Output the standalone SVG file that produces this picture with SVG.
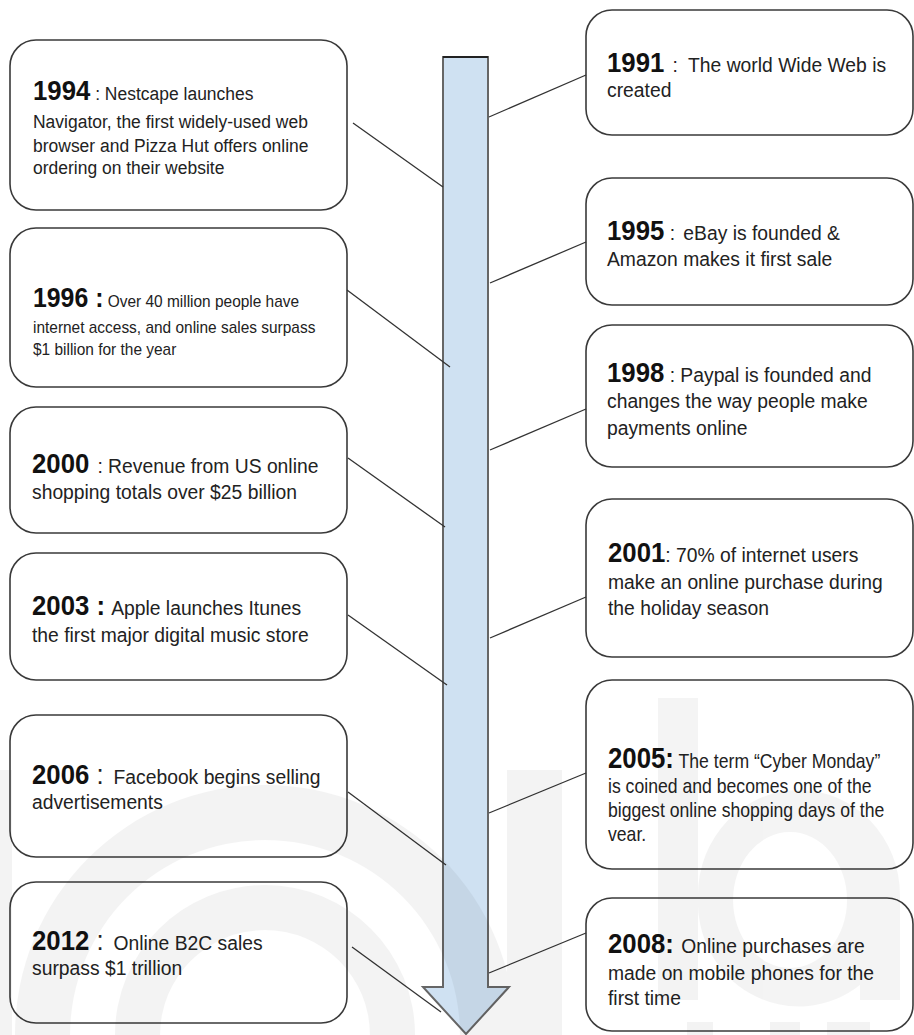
<svg xmlns="http://www.w3.org/2000/svg" width="914" height="1035" viewBox="0 0 914 1035">
<style>
.box{fill:#fff;stroke:#3a3a3a;stroke-width:1.6}
.t{font-family:"Liberation Sans",Arial,sans-serif;fill:#222}
.yr{font-weight:bold;fill:#111}
.con line{stroke:#333;stroke-width:1.3}
.wm{fill:#000;opacity:0.045}
</style>
<rect width="914" height="1035" fill="#fff"/>

<g id="arrow">
<polygon points="443,57 488,57 488,987 509,987 466,1034 423,987 443,987" fill="#cfe1f2" stroke="#666" stroke-width="2"/>
<line x1="443" y1="57" x2="488" y2="57" stroke="#222" stroke-width="2"/>
</g>

<g id="n1994">
<rect class="box" x="10" y="40" width="337" height="170" rx="26"/>
<g transform="translate(33 0) scale(0.92 1)"><text class="t" font-size="19"><tspan x="0" y="100"><tspan class="yr" font-size="28">1994</tspan> : Nestcape launches</tspan><tspan x="0" y="128">Navigator, the first widely-used web</tspan><tspan x="0" y="152">browser and Pizza Hut offers online</tspan><tspan x="0" y="174">ordering on their website</tspan></text></g>
</g>

<g id="n1996">
<rect class="box" x="10" y="228" width="337" height="159" rx="26"/>
<g transform="translate(33 0) scale(0.92 1)"><text class="t" font-size="16.8"><tspan x="0" y="307"><tspan class="yr" font-size="27">1996 :</tspan> Over 40 million people have</tspan><tspan x="0" y="333">internet access, and online sales surpass</tspan><tspan x="0" y="355">$1 billion for the year</tspan></text></g>
</g>

<g id="n2000">
<rect class="box" x="10" y="407" width="337" height="126" rx="26"/>
<g transform="translate(32 0) scale(0.92 1)"><text class="t" font-size="21"><tspan x="0" y="473"><tspan class="yr" font-size="28">2000</tspan><tspan dx="3"> : Revenue from US online</tspan></tspan><tspan x="0" y="499">shopping totals over $25 billion</tspan></text></g>
</g>

<g id="n2003">
<rect class="box" x="10" y="553" width="337" height="127" rx="26"/>
<g transform="translate(32 0) scale(0.92 1)"><text class="t" font-size="21"><tspan x="0" y="615"><tspan class="yr" font-size="28">2003 :</tspan><tspan dx="2"> Apple launches Itunes</tspan></tspan><tspan x="0" y="642">the first major digital music store</tspan></text></g>
</g>

<g id="n2006">
<rect class="box" x="10" y="715" width="337" height="142" rx="26"/>
<g transform="translate(32 0) scale(0.92 1)"><text class="t" font-size="21"><tspan x="0" y="784"><tspan class="yr" font-size="28">2006</tspan><tspan font-size="28"> : </tspan><tspan dx="3">Facebook begins selling</tspan></tspan><tspan x="0" y="809">advertisements</tspan></text></g>
</g>

<g id="n2012">
<rect class="box" x="10" y="882" width="337" height="141" rx="26"/>
<g transform="translate(32 0) scale(0.92 1)"><text class="t" font-size="21"><tspan x="0" y="950"><tspan class="yr" font-size="28">2012</tspan><tspan font-size="28"> : </tspan><tspan dx="3">Online B2C sales</tspan></tspan><tspan x="0" y="975">surpass $1 trillion</tspan></text></g>
</g>

<g id="n1991">
<rect class="box" x="586" y="10" width="327" height="125" rx="26"/>
<g transform="translate(607 0) scale(0.92 1)"><text class="t" font-size="21"><tspan x="0" y="72"><tspan class="yr" font-size="28">1991</tspan><tspan dx="9">:</tspan><tspan dx="11">The world Wide Web is</tspan></tspan><tspan x="0" y="97">created</tspan></text></g>
</g>

<g id="n1995">
<rect class="box" x="586" y="178" width="327" height="127" rx="26"/>
<g transform="translate(607 0) scale(0.92 1)"><text class="t" font-size="21"><tspan x="0" y="240"><tspan class="yr" font-size="28">1995</tspan> :<tspan dx="9">eBay is founded &amp;</tspan></tspan><tspan x="0" y="266">Amazon makes it first sale</tspan></text></g>
</g>

<g id="n1998">
<rect class="box" x="586" y="325" width="327" height="142" rx="26"/>
<g transform="translate(607 0) scale(0.92 1)"><text class="t" font-size="21"><tspan x="0" y="382"><tspan class="yr" font-size="28">1998</tspan> : Paypal is founded and</tspan><tspan x="0" y="408">changes the way people make</tspan><tspan x="0" y="435">payments online</tspan></text></g>
</g>

<g id="n2001">
<rect class="box" x="586" y="499" width="327" height="158" rx="26"/>
<g transform="translate(608 0) scale(0.92 1)"><text class="t" font-size="21"><tspan x="0" y="562"><tspan class="yr" font-size="28">2001</tspan>: 70% of internet users</tspan><tspan x="0" y="589">make an online purchase during</tspan><tspan x="0" y="615">the holiday season</tspan></text></g>
</g>

<g id="n2005">
<rect class="box" x="586" y="680" width="327" height="189" rx="26"/>
<g transform="translate(608 0) scale(0.86 1)"><text class="t" font-size="20.5"><tspan x="0" y="768"><tspan class="yr" font-size="30">2005:</tspan> The term “Cyber Monday”</tspan><tspan x="0" y="793">is coined and becomes one of the</tspan><tspan x="0" y="817">biggest online shopping days of the</tspan><tspan x="0" y="841">vear.</tspan></text></g>
</g>

<g id="n2008">
<rect class="box" x="586" y="898" width="327" height="133" rx="26"/>
<g transform="translate(608 0) scale(0.92 1)"><text class="t" font-size="21"><tspan x="0" y="953"><tspan class="yr" font-size="28">2008:</tspan><tspan dx="8">Online purchases are</tspan></tspan><tspan x="0" y="980">made on mobile phones for the</tspan><tspan x="0" y="1005">first time</tspan></text></g>
</g>

<g id="connectors" class="con">
<line x1="353" y1="123" x2="443" y2="187"/>
<line x1="347" y1="290" x2="450" y2="367"/>
<line x1="348" y1="458" x2="445" y2="527"/>
<line x1="348" y1="615" x2="447" y2="685"/>
<line x1="348" y1="792" x2="446" y2="865"/>
<line x1="352" y1="947" x2="441" y2="1012"/>
<line x1="489" y1="117" x2="586" y2="75"/>
<line x1="490" y1="283" x2="586" y2="242"/>
<line x1="490" y1="450" x2="586" y2="409"/>
<line x1="490" y1="638" x2="586" y2="597"/>
<line x1="489" y1="813" x2="586" y2="773"/>
<line x1="489" y1="973" x2="586" y2="933"/>
</g>

<g id="watermark" class="wm">
<rect x="0" y="770" width="12" height="265"/>
<path d="M15,1035 A250,250 0 0 1 515,1035 L460,1035 A195,195 0 0 0 70,1035 Z"/>
<path d="M115,1035 A150,150 0 0 1 415,1035 L370,1035 A105,105 0 0 0 160,1035 Z"/>
<rect x="507" y="770" width="55" height="265"/>
<rect x="658" y="698" width="40" height="302"/>
<path d="M698,895 A101,105 0 0 1 900,895 V1000 H860 V985 A101,105 0 0 1 698,895 Z M733,900 A57,68 0 1 0 847,900 A57,68 0 1 0 733,900 Z" fill-rule="evenodd"/>
<rect x="687" y="1022" width="26" height="13"/>
<rect x="770" y="1022" width="30" height="13"/>
<rect x="827" y="1022" width="43" height="13"/>
</g>
</svg>
